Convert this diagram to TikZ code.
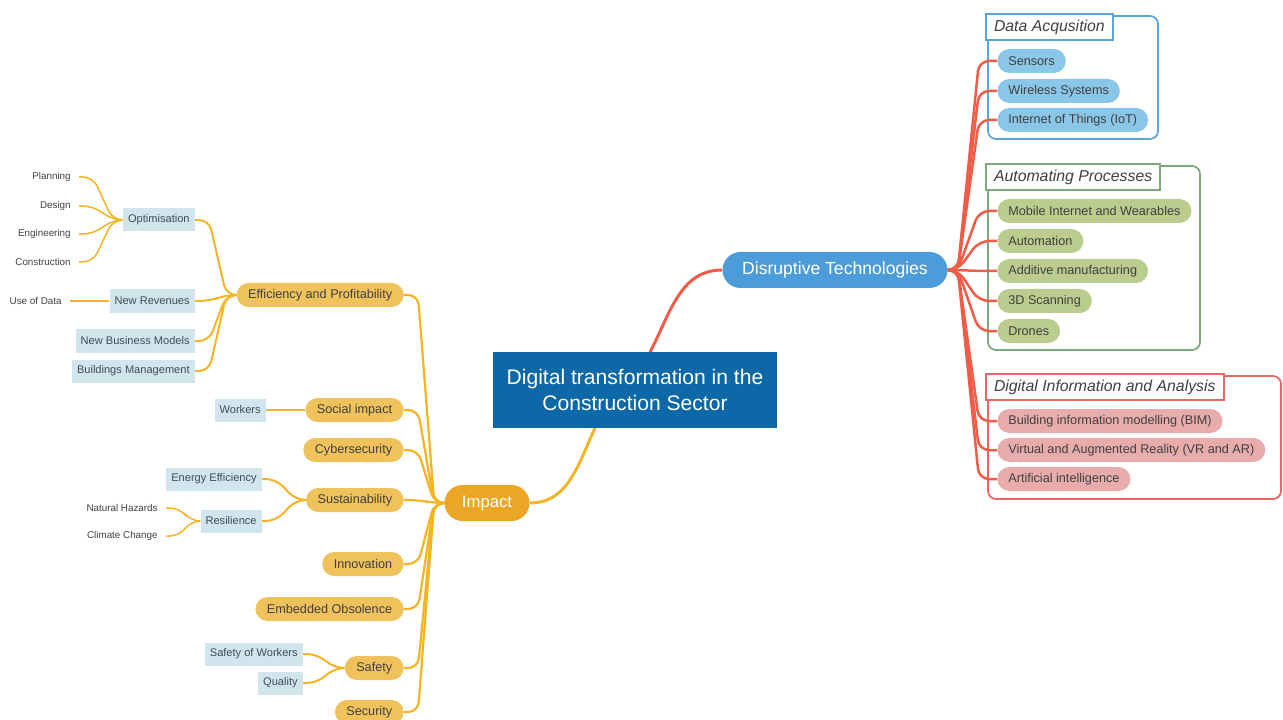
\documentclass[tikz,border=0pt]{standalone}
\usepackage{fontspec}
\setmainfont{Liberation Sans}
\usetikzlibrary{backgrounds, calc}

\definecolor{corebl}{RGB}{12,104,166}
\definecolor{dtbl}{RGB}{75,156,216}
\definecolor{impor}{RGB}{236,166,38}
\definecolor{orln}{RGB}{245,180,35}
\definecolor{orfill}{RGB}{240,194,92}
\definecolor{subbl}{RGB}{210,228,236}
\definecolor{redln}{RGB}{240,92,72}
\definecolor{dabl}{RGB}{138,198,232}
\definecolor{dabd}{RGB}{92,164,218}
\definecolor{apgr}{RGB}{186,204,142}
\definecolor{apbd}{RGB}{124,168,124}
\definecolor{dipk}{RGB}{232,172,172}
\definecolor{dibd}{RGB}{234,102,98}
\definecolor{txt}{RGB}{64,64,64}
\definecolor{subtxt}{RGB}{58,78,92}

\begin{document}
\begin{tikzpicture}[x=0.2mm, y=-0.2mm,
    core node/.style={rectangle, fill=corebl, text=white, font=\fontsize{12}{15}\selectfont, align=center, minimum width=56.8mm, minimum height=15mm},
    main node/.style={rectangle, rounded corners=3.6mm, text=white, minimum height=7.2mm},
    topic node/.style={rectangle, rounded corners=2.4mm, fill=orfill, text=txt, font=\fontsize{7.2}{9}\selectfont, minimum height=4.8mm, inner xsep=2.3mm, anchor=east},
    sub node/.style={rectangle, fill=subbl, text=subtxt, font=\fontsize{6.3}{8}\selectfont, minimum height=4.6mm, inner xsep=1mm, anchor=east},
    leaf node/.style={font=\fontsize{5.6}{7}\selectfont, text=txt, inner xsep=1.6mm, anchor=east},
    tech node/.style={rectangle, rounded corners=2.4mm, text=txt, font=\fontsize{7.2}{9}\selectfont, minimum height=4.8mm, inner xsep=2.2mm, anchor=west},
    group title/.style={rectangle, fill=white, line width=0.4mm, font=\itshape\fontsize{9}{11}\selectfont, text=txt, minimum height=5.2mm, inner xsep=1.6mm, anchor=north west},
    group box/.style={rounded corners=1.6mm, line width=0.35mm},
    orline/.style={draw=orln, line width=0.45mm, rounded corners=2mm},
    redline/.style={draw=redln, line width=0.5mm, rounded corners=2mm},
    lbr/.style={to path={-- ++(-10,0) -- ($(\tikztotarget)+(14,0)$) -- (\tikztotarget)}},
    rbr/.style={to path={-- ++(10,0) -- ($(\tikztotarget)+(-18,0)$) -- (\tikztotarget)}}]

    \useasboundingbox (0,0) rectangle (1283,720);

    % centre
    \node[core node] (cen) at (635,390) {Digital transformation in the\\Construction Sector};
    \node[main node, fill=dtbl, font=\fontsize{10}{12}\selectfont, minimum width=45mm] (dt) at (835,270) {Disruptive Technologies};
    \node[main node, fill=impor, font=\fontsize{9.5}{12}\selectfont, minimum width=17mm] (imp) at (487,503) {Impact};

    % impact topics
    \node[topic node] (eff) at (404,295) {Efficiency and Profitability};
    \node[topic node] (soc) at (404,410) {Social impact};
    \node[topic node] (cyb) at (404,450) {Cybersecurity};
    \node[topic node] (sus) at (404,500) {Sustainability};
    \node[topic node] (inn) at (404,564) {Innovation};
    \node[topic node] (emb) at (404,609) {Embedded Obsolence};
    \node[topic node] (saf) at (404,668) {Safety};
    \node[topic node] (sec) at (404,712) {Security};

    % sub topics
    \node[sub node] (opt) at (195,220) {Optimisation};
    \node[sub node] (rev) at (195,301) {New Revenues};
    \node[sub node] (bus) at (195,341) {New Business Models};
    \node[sub node] (bld) at (195,371) {Buildings Management};
    \node[sub node] (wrk) at (266,410) {Workers};
    \node[sub node] (ene) at (262,479) {Energy Efficiency};
    \node[sub node] (res) at (262,521) {Resilience};
    \node[sub node] (sow) at (303,654) {Safety of Workers};
    \node[sub node] (qua) at (303,683) {Quality};

    % leaves
    \node[leaf node] (pla) at (79,177) {Planning};
    \node[leaf node] (des) at (79,206) {Design};
    \node[leaf node] (eng) at (79,234) {Engineering};
    \node[leaf node] (con) at (79,262) {Construction};
    \node[leaf node] (uod) at (70,301) {Use of Data};
    \node[leaf node] (nat) at (166,508) {Natural Hazards};
    \node[leaf node] (cli) at (166,536) {Climate Change};

    % technology groups
    \node[group title, draw=dabd] (da) at (985,13) {Data Acqusition};
    \node[tech node, fill=dabl] (sen) at (997,61) {Sensors};
    \node[tech node, fill=dabl] (wir) at (997,91) {Wireless Systems};
    \node[tech node, fill=dabl] (iot) at (997,120) {Internet of Things (IoT)};

    \node[group title, draw=apbd] (ap) at (985,163) {Automating Processes};
    \node[tech node, fill=apgr] (mob) at (997,211) {Mobile Internet and Wearables};
    \node[tech node, fill=apgr] (aut) at (997,241) {Automation};
    \node[tech node, fill=apgr] (add) at (997,271) {Additive manufacturing};
    \node[tech node, fill=apgr] (scan) at (997,301) {3D Scanning};
    \node[tech node, fill=apgr] (dro) at (997,331) {Drones};

    \node[group title, draw=dibd] (dia) at (985,373) {Digital Information and Analysis};
    \node[tech node, fill=dipk] (bim) at (997,421) {Building information modelling (BIM)};
    \node[tech node, fill=dipk] (vr) at (997,450) {Virtual and Augmented Reality (VR and AR)};
    \node[tech node, fill=dipk] (ai) at (997,479) {Artificial intelligence};

    \begin{scope}[on background layer]
        % group frames
        \draw[group box, draw=dabd] (988,16) rectangle (1158,139);
        \draw[group box, draw=apbd] (988,166) rectangle (1200,350);
        \draw[group box, draw=dibd] (988,376) rectangle (1281,499);

        % main branches
        \draw[redline, line width=0.6mm] ([xshift=3mm]cen.north) to[out=62, in=180] (dt.west);
        \draw[orline, line width=0.6mm] ([xshift=-8mm]cen.south) to[out=-115, in=0] (imp.east);

        % technologies
        \draw[redline] (dt.east) to[rbr] (sen.west);
        \draw[redline] (dt.east) to[rbr] (wir.west);
        \draw[redline] (dt.east) to[rbr] (iot.west);
        \draw[redline] (dt.east) to[rbr] (mob.west);
        \draw[redline] (dt.east) to[rbr] (aut.west);
        \draw[redline] (dt.east) to[rbr] (add.west);
        \draw[redline] (dt.east) to[rbr] (scan.west);
        \draw[redline] (dt.east) to[rbr] (dro.west);
        \draw[redline] (dt.east) to[rbr] (bim.west);
        \draw[redline] (dt.east) to[rbr] (vr.west);
        \draw[redline] (dt.east) to[rbr] (ai.west);

        % impact
        \draw[orline] (imp.west) to[lbr] (eff.east);
        \draw[orline] (imp.west) to[lbr] (soc.east);
        \draw[orline] (imp.west) to[lbr] (cyb.east);
        \draw[orline] (imp.west) to[lbr] (sus.east);
        \draw[orline] (imp.west) to[lbr] (inn.east);
        \draw[orline] (imp.west) to[lbr] (emb.east);
        \draw[orline] (imp.west) to[lbr] (saf.east);
        \draw[orline] (imp.west) to[lbr] (sec.east);

        \draw[orline, line width=0.4mm] (eff.west) to[lbr] (opt.east);
        \draw[orline, line width=0.4mm] (eff.west) to[lbr] (rev.east);
        \draw[orline, line width=0.4mm] (eff.west) to[lbr] (bus.east);
        \draw[orline, line width=0.4mm] (eff.west) to[lbr] (bld.east);
        \draw[orline, line width=0.4mm] (soc.west) -- (wrk.east);
        \draw[orline, line width=0.4mm] (sus.west) to[lbr] (ene.east);
        \draw[orline, line width=0.4mm] (sus.west) to[lbr] (res.east);
        \draw[orline, line width=0.4mm] (saf.west) to[lbr] (sow.east);
        \draw[orline, line width=0.4mm] (saf.west) to[lbr] (qua.east);

        \draw[orline, line width=0.3mm] (opt.west) to[lbr] (pla.east);
        \draw[orline, line width=0.3mm] (opt.west) to[lbr] (des.east);
        \draw[orline, line width=0.3mm] (opt.west) to[lbr] (eng.east);
        \draw[orline, line width=0.3mm] (opt.west) to[lbr] (con.east);
        \draw[orline, line width=0.3mm] (rev.west) -- (uod.east);
        \draw[orline, line width=0.3mm] (res.west) to[lbr] (nat.east);
        \draw[orline, line width=0.3mm] (res.west) to[lbr] (cli.east);
    \end{scope}
\end{tikzpicture}
\end{document}
